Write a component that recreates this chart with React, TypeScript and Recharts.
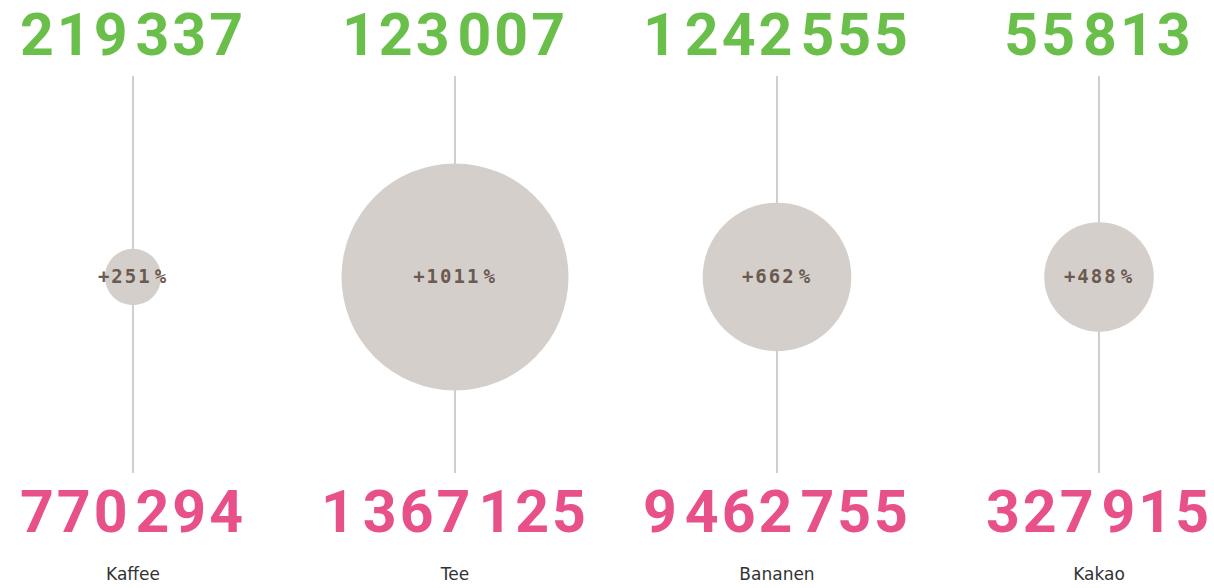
import {
    ComposedChart,
    Scatter,
    XAxis,
    YAxis,
    ZAxis,
    ReferenceLine,
} from "recharts";

// Einfuhrmengen: vorher (grün) / nachher (pink), Zuwachs in %
const categories = ["Kaffee", "Tee", "Bananen", "Kakao"];
const before = [219337, 123007, 1242555, 55813];
const after = [770294, 1367125, 9462755, 327915];
const growth = [251, 1011, 662, 488];

const data = categories.map((name, i) => ({
    name,
    before: before[i],
    after: after[i],
    growth: growth[i],
}));

const GREEN = "#6abf4b";
const PINK = "#e8508a";
const BUBBLE = "#d5cfcb";
const LINE = "#d2cecb";
const PCT_TEXT = "#6b5a50";

const numberFont = {
    fontFamily: "Roboto, sans-serif",
    fontWeight: 700,
    fontSize: 59,
    letterSpacing: 3,
};

// split into groups of three digits, drawn with a small gap
const groups = (n: number) => {
    const parts = String(n).replace(/\B(?=(\d{3})+(?!\d))/g, " ").split(" ");
    return parts.map((p, i) => (
        <tspan key={i} dx={i ? 5 : 0}>
            {p}
        </tspan>
    ));
};

const findRow = (name: string) => data.find((d) => d.name === name);

const TopTick = (props: any) => {
    const { x, y, payload } = props;
    const row = findRow(payload.value);
    if (!row) return null;
    return (
        <text x={x} y={y - 21} textAnchor="middle" fill={GREEN} style={numberFont}>
            {groups(row.before)}
        </text>
    );
};

const BottomTick = (props: any) => {
    const { x, y, payload } = props;
    const row = findRow(payload.value);
    if (!row) return null;
    return (
        <g>
            <text x={x} y={y + 59} textAnchor="middle" fill={PINK} style={numberFont}>
                {groups(row.after)}
            </text>
            <text
                x={x}
                y={y + 107}
                textAnchor="middle"
                fill="#333"
                style={{ fontFamily: "'DejaVu Sans', sans-serif", fontSize: 17 }}
            >
                {row.name}
            </text>
        </g>
    );
};

const Bubble = (props: any) => {
    const { cx, cy, size, payload } = props;
    return (
        <g>
            <circle cx={cx} cy={cy} r={size} fill={BUBBLE} />
            <text
                x={cx}
                y={cy}
                dy={6}
                textAnchor="middle"
                fill={PCT_TEXT}
                style={{
                    fontFamily: "'DejaVu Sans Mono', monospace",
                    fontWeight: 700,
                    fontSize: 19,
                    letterSpacing: 2,
                }}
            >
                +{payload.growth}
                <tspan dx={3}>%</tspan>
            </text>
        </g>
    );
};

const App = () => {
    return (
        <div style={{ position: "absolute", left: 0, top: 0, background: "#fff" }}>
            <ComposedChart
                width={1214}
                height={588}
                data={data}
                margin={{ top: 0, right: 0, bottom: 0, left: 0 }}
            >
                <XAxis
                    xAxisId="top"
                    orientation="top"
                    dataKey="name"
                    scale="point"
                    padding={{ left: 133, right: 115 }}
                    height={76}
                    axisLine={false}
                    tickLine={false}
                    tickSize={0}
                    tickMargin={0}
                    interval={0}
                    tick={<TopTick />}
                />
                <XAxis
                    xAxisId="bottom"
                    orientation="bottom"
                    dataKey="name"
                    scale="point"
                    padding={{ left: 133, right: 115 }}
                    height={115}
                    axisLine={false}
                    tickLine={false}
                    tickSize={0}
                    tickMargin={0}
                    interval={0}
                    tick={<BottomTick />}
                />
                <YAxis hide type="number" domain={[-1, 1.025]} />
                <ZAxis dataKey="growth" type="number" domain={[0, 1000]} range={[0, 113.5]} />
                {categories.map((c) => (
                    <ReferenceLine
                        key={c}
                        xAxisId="bottom"
                        x={c}
                        stroke={LINE}
                        strokeWidth={2}
                    />
                ))}
                <Scatter
                    xAxisId="bottom"
                    dataKey={() => 0}
                    shape={<Bubble />}
                    isAnimationActive={false}
                />
            </ComposedChart>
        </div>
    );
};

export default App;
